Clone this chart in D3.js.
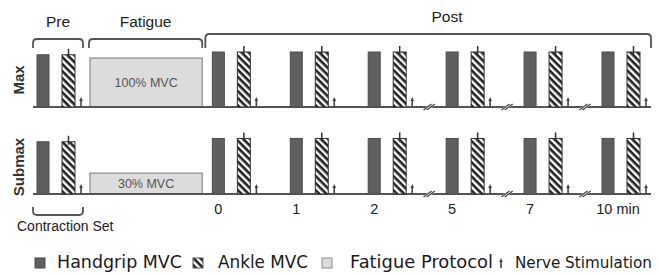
<!DOCTYPE html>
<html>
<head>
<meta charset="utf-8">
<script src="https://cdn.jsdelivr.net/npm/d3@7"></script>
<style>
  body { margin: 0; background: #fff; }
  text { font-family: "Liberation Sans", Arial, sans-serif; fill: #222; }
  .legendText { font-family: "DejaVu Sans", sans-serif; fill: #1a1a1a; }
</style>
</head>
<body>
<div id="chart"></div>
<script>
const svgWidth = 660;
const svgHeight = 276;

// contraction sets: slot position on the schematic timeline
const setNames = ["Pre", "0", "1", "2", "5", "7", "10"];
const setSlots = [0, 2.25, 3.25, 4.25, 5.25, 6.25, 7.25];
const timeLabels = ["", "0", "1", "2", "5", "7", "10 min"];
const breaksAfter = ["2", "5", "7"];

// rows and their heights (% of MVC)
const rowNames = ["Max", "Submax"];
const preLevel = [95, 95];
const postLevel = [100, 101];
const fatigueLevel = [89, 38];
const fatigueLabels = ["100% MVC", "30% MVC"];
const fatigueSlots = [0.68, 2.12];

const phaseLabels = ["Pre", "Fatigue", "Post"];
const legendLabels = ["Handgrip MVC", "Ankle MVC", "Fatigue Protocol", "Nerve Stimulation"];

const rowBase = [107, 194];
const barW = 12;
const ankleOff = 25;
const tickOff = 44;

const x = d3.scaleLinear().domain([0, 7.25]).range([37, 602]);
const y = rowBase.map(b => d3.scaleLinear().domain([0, 100]).range([b, b - 55]));

const svg = d3.select("#chart")
  .append("svg")
  .attr("width", svgWidth)
  .attr("height", svgHeight);

const defs = svg.append("defs");
const hatch = defs.append("pattern")
  .attr("id", "hatch")
  .attr("patternUnits", "userSpaceOnUse")
  .attr("width", 5)
  .attr("height", 5)
  .attr("patternTransform", "rotate(45)");
hatch.append("rect").attr("width", 5).attr("height", 5).attr("fill", "#fff");
hatch.append("rect").attr("width", 5).attr("height", 2.6).attr("fill", "#222");

function stim(g, cx, base) {
  g.append("line")
    .attr("x1", cx).attr("x2", cx)
    .attr("y1", base).attr("y2", base - 8)
    .attr("stroke", "#444").attr("stroke-width", 1.6);
  g.append("path")
    .attr("d", `M${cx - 1.8},${base - 6} L${cx},${base - 10} L${cx + 1.8},${base - 6} Z`)
    .attr("fill", "#444");
}

// rows
rowNames.forEach((name, r) => {
  const g = svg.append("g");
  const base = rowBase[r];

  // fatigue box
  g.append("rect")
    .attr("x", x(fatigueSlots[0]))
    .attr("width", x(fatigueSlots[1]) - x(fatigueSlots[0]))
    .attr("y", y[r](fatigueLevel[r]))
    .attr("height", base - y[r](fatigueLevel[r]))
    .attr("fill", "#dcdcdc")
    .attr("stroke", "#8c8c8c")
    .attr("stroke-width", 1.2);

  g.append("text")
    .attr("x", (x(fatigueSlots[0]) + x(fatigueSlots[1])) / 2)
    .attr("y", (y[r](fatigueLevel[r]) + base) / 2 + 4.5)
    .attr("text-anchor", "middle")
    .style("font-size", "12.5px")
    .style("fill", "#555")
    .text(fatigueLabels[r]);

  // baseline
  g.append("line")
    .attr("x1", x(0) - 4).attr("x2", x(7.25) + 49)
    .attr("y1", base).attr("y2", base)
    .attr("stroke", "#555").attr("stroke-width", 2);

  setNames.forEach((s, i) => {
    const sx = x(setSlots[i]);
    const lvl = i === 0 ? preLevel[r] : postLevel[r];
    const top = y[r](lvl);

    g.append("rect")
      .attr("x", sx).attr("width", barW)
      .attr("y", top).attr("height", base - top)
      .attr("fill", "#5f5f5f")
      .attr("stroke", "#4c4c4c").attr("stroke-width", 1);

    g.append("rect")
      .attr("x", sx + ankleOff).attr("width", barW + 1)
      .attr("y", top).attr("height", base - top)
      .attr("fill", "url(#hatch)")
      .attr("stroke", "#333").attr("stroke-width", 1);

    // stimulation during ankle MVC
    g.append("line")
      .attr("x1", sx + ankleOff + 6.5).attr("x2", sx + ankleOff + 6.5)
      .attr("y1", top + 3).attr("y2", top - 6)
      .attr("stroke", "#333").attr("stroke-width", 1.5);

    // stimulation at rest
    stim(g, sx + tickOff, base);

    if (breaksAfter.includes(s)) {
      const bx = (sx + tickOff + x(setSlots[i + 1])) / 2;
      g.append("path")
        .attr("d", `M${bx - 4},${base + 3} L${bx + 4},${base - 3}`)
        .attr("stroke", "#fff").attr("stroke-width", 3.5);
      [-1.6, 1.6].forEach(o => {
        g.append("path")
          .attr("d", `M${bx - 4 + o},${base + 3} L${bx + 4 + o},${base - 3}`)
          .attr("stroke", "#444").attr("stroke-width", 1.2);
      });
    }
  });

  g.append("text")
    .attr("transform", `translate(24, ${base - 27}) rotate(-90)`)
    .attr("text-anchor", "middle")
    .style("font-size", "15px")
    .style("font-weight", "bold")
    .style("fill", "#333")
    .text(name);
});

// time labels
svg.append("g").selectAll("text")
  .data(timeLabels.map((t, i) => ({ t, i })).filter(d => d.t !== ""))
  .join("text")
  .attr("x", d => x(setSlots[d.i]) + barW / 2 + (d.t.length > 2 ? 10 : 0))
  .attr("y", 214)
  .attr("text-anchor", "middle")
  .style("font-size", "14.5px")
  .text(d => d.t);

// phase brackets
function bracket(x0, x1, yTop, yBot, down) {
  const r = 4;
  const d = down
    ? `M${x0},${yBot} L${x0},${yTop + r} Q${x0},${yTop} ${x0 + r},${yTop} L${x1 - r},${yTop} Q${x1},${yTop} ${x1},${yTop + r} L${x1},${yBot}`
    : `M${x0},${yTop} L${x0},${yBot - r} Q${x0},${yBot} ${x0 + r},${yBot} L${x1 - r},${yBot} Q${x1},${yBot} ${x1},${yBot - r} L${x1},${yTop}`;
  svg.append("path").attr("d", d)
    .attr("fill", "none").attr("stroke", "#555").attr("stroke-width", 1.8);
}

const phaseSpans = [
  [x(0) - 4, x(0) + 46],
  [x(fatigueSlots[0]) - 1, x(fatigueSlots[1])],
  [x(setSlots[1]) - 7, x(7.25) + 49]
];
const phaseTops = [39, 39, 34];
phaseLabels.forEach((p, i) => {
  bracket(phaseSpans[i][0], phaseSpans[i][1], phaseTops[i], 48, true);
  svg.append("text")
    .attr("x", i === 2 ? 447 : (phaseSpans[i][0] + phaseSpans[i][1]) / 2)
    .attr("y", phaseTops[i] - 12)
    .attr("text-anchor", "middle")
    .style("font-size", "15.5px")
    .text(p);
});

// contraction set bracket
bracket(x(0) - 4, x(0) + 46, 207, 215, false);
svg.append("text")
  .attr("x", 17).attr("y", 231)
  .style("font-size", "14px")
  .text("Contraction Set");

// legend
const legend = svg.append("g").attr("transform", "translate(0, 268)");
const legendX = [35, 193, 322, 501];
const legendTextX = [57, 218, 350, 515];
const legendTextW = [125, 90, 143, 137];
const legendFont = [17.5, 17.5, 17.5, 16];
legend.append("rect").attr("x", legendX[0]).attr("y", -10).attr("width", 10).attr("height", 10)
  .attr("fill", "#5f5f5f").attr("stroke", "#4c4c4c");
legend.append("rect").attr("x", legendX[1]).attr("y", -10).attr("width", 10).attr("height", 10)
  .attr("fill", "url(#hatch)").attr("stroke", "#555");
legend.append("rect").attr("x", legendX[2]).attr("y", -10).attr("width", 10).attr("height", 10)
  .attr("fill", "#dcdcdc").attr("stroke", "#8c8c8c");
stim(legend, legendX[3], 0);
legend.selectAll("text.legendText")
  .data(legendLabels)
  .join("text")
  .attr("class", "legendText")
  .attr("x", (d, i) => legendTextX[i])
  .attr("y", 0)
  .style("font-size", (d, i) => legendFont[i] + "px")
  .attr("textLength", (d, i) => legendTextW[i])
  .attr("lengthAdjust", "spacingAndGlyphs")
  .text(d => d);
</script>
</body>
</html>
